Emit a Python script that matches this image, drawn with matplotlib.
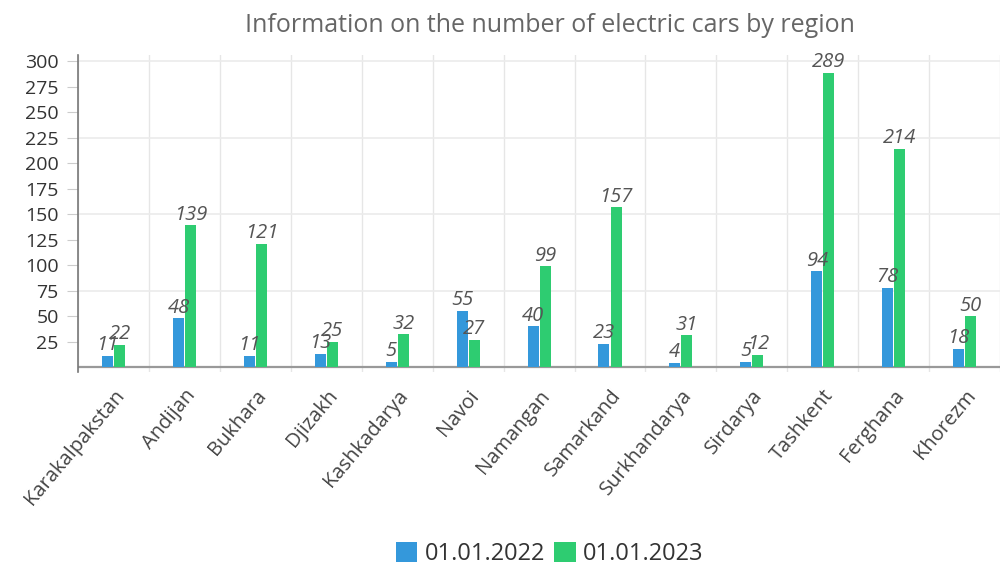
import numpy as np
import matplotlib.pyplot as plt
from matplotlib.patches import Patch

regions = ["Karakalpakstan", "Andijan", "Bukhara", "Djizakh", "Kashkadarya",
           "Navoi", "Namangan", "Samarkand", "Surkhandarya", "Sirdarya",
           "Tashkent", "Ferghana", "Khorezm"]
cars_2022 = [11, 48, 11, 13, 5, 55, 40, 23, 4, 5, 94, 78, 18]
cars_2023 = [22, 139, 121, 25, 32, 27, 99, 157, 31, 12, 289, 214, 50]
series_names = ["01.01.2022", "01.01.2023"]
y_ticks = list(range(25, 301, 25))

blue = "#3498db"
green = "#2ecc71"

plt.rcParams['font.family'] = ['Open Sans', 'DejaVu Sans']

fig = plt.figure(figsize=(10.03, 5.69), dpi=100)
ax = fig.add_axes([0.078, 0.346, 0.919, 0.557])

x = np.arange(len(regions))
w = 0.155
off = 0.085
ax.bar(x - off, cars_2022, w, color=blue, zorder=3)
ax.bar(x + off, cars_2023, w, color=green, zorder=3)

for xi, v in zip(x, cars_2022):
    ax.text(xi - off, v + 0.5, str(v), ha='center', va='bottom',
            fontsize=14.5, style='italic', color='#555555', zorder=4)
for xi, v in zip(x, cars_2023):
    ax.text(xi + off, v + 0.5, str(v), ha='center', va='bottom',
            fontsize=14.5, style='italic', color='#555555', zorder=4)

ax.set_xlim(-0.5, len(regions) - 0.5)
ax.set_ylim(-5, 306)

# vertical grid at category boundaries
for b in np.arange(-0.5, len(regions), 1.0):
    ax.axvline(b, color='#e6e6e6', lw=1, zorder=1)
# horizontal grid every 75
for g in [75, 150, 225, 300]:
    ax.axhline(g, color='#ebebeb', lw=1.2, zorder=1)
ax.axhline(0, color='#999999', lw=1.6, zorder=2)

for s in ['top', 'right', 'bottom']:
    ax.spines[s].set_visible(False)
ax.spines['left'].set_color('#777777')
ax.spines['left'].set_linewidth(1.2)

ax.set_yticks(y_ticks)
ax.tick_params(axis='y', length=8, color='#cccccc', labelsize=14,
               labelcolor='#333333', pad=6)
ax.set_xticks(x)
ax.set_xticklabels(regions, rotation=50, ha='right', rotation_mode='anchor',
                   fontsize=14.5, color='#444444')
ax.tick_params(axis='x', length=0, pad=10)

fig.suptitle("Information on the number of electric cars by region",
             x=0.548, y=0.978, fontsize=18, color='#666666')

handles = [Patch(facecolor=blue), Patch(facecolor=green)]
fig.legend(handles, series_names, loc='center', bbox_to_anchor=(0.548, 0.026),
           ncol=2, frameon=False, fontsize=17, handlelength=0.9,
           handleheight=0.9, handletextpad=0.3, columnspacing=0.4,
           labelcolor='#333333')

fig.savefig("out.png", dpi=100)
